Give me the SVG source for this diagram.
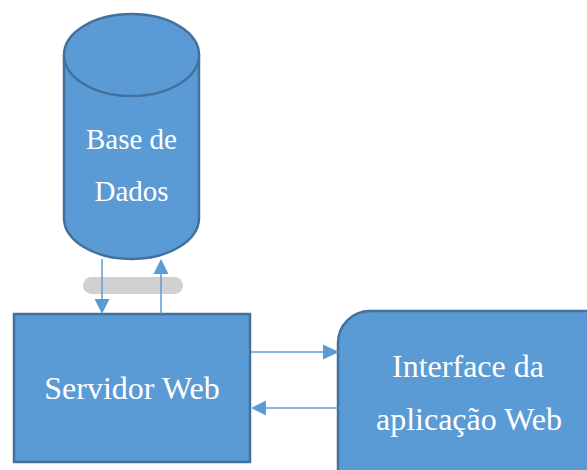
<svg xmlns="http://www.w3.org/2000/svg" width="587" height="470" viewBox="0 0 587 470">
  <defs>
    <style>
      .shape { fill: #5B9BD5; stroke: #41719C; stroke-width: 2.5; }
      .label { fill: #FFFFFF; font-family: "Liberation Serif", "Times New Roman", serif; text-anchor: middle; }
      .link { stroke: #5B9BD5; stroke-width: 1.5; fill: none; }
      .head { fill: #5B9BD5; }
    </style>
  </defs>

  <!-- database cylinder -->
  <g id="base-de-dados">
    <path class="shape" d="M64,55 L64,218 A67.5,41 0 0 0 199,218 L199,55"/>
    <ellipse class="shape" cx="131.5" cy="55" rx="67.5" ry="41"/>
    <text class="label" x="131.5" y="149" font-size="29">Base de</text>
    <text class="label" x="131.5" y="201" font-size="29">Dados</text>
  </g>

  <!-- gray bar between database and server -->
  <g id="barra">
    <rect x="83" y="277" width="100" height="17" rx="8.5" ry="8.5" fill="#D0D0D0"/>
  </g>

  <!-- web server -->
  <g id="servidor-web">
    <rect class="shape" x="14" y="314" width="236" height="148"/>
    <text class="label" x="132" y="399" font-size="32">Servidor Web</text>
  </g>

  <!-- web application interface -->
  <g id="interface">
    <rect class="shape" x="338" y="311" width="280" height="190" rx="32" ry="32"/>
    <text class="label" x="468" y="377" font-size="32">Interface da</text>
    <text class="label" x="469" y="430" font-size="32">aplicação Web</text>
  </g>

  <!-- connectors -->
  <g id="conectores">
    <line class="link" x1="102" y1="259" x2="102" y2="300"/>
    <polygon class="head" points="94.5,299 109.5,299 102,314"/>
    <line class="link" x1="161" y1="314" x2="161" y2="272"/>
    <polygon class="head" points="153.5,274 168.5,274 161,259"/>
    <line class="link" x1="251" y1="352" x2="325" y2="352"/>
    <polygon class="head" points="323,344.5 323,359.5 339,352"/>
    <line class="link" x1="338" y1="408" x2="264" y2="408"/>
    <polygon class="head" points="266,400.5 266,415.5 251,408"/>
  </g>
</svg>
